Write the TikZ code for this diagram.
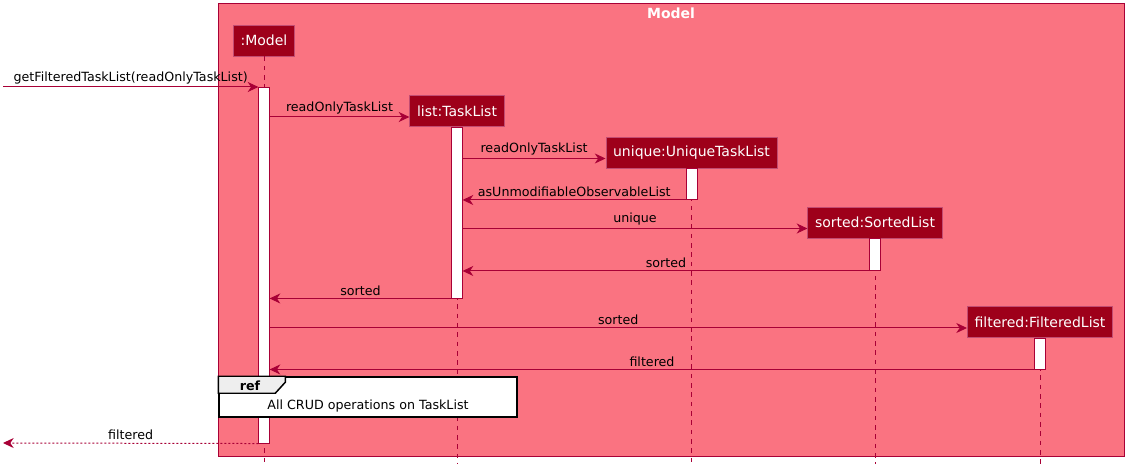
\documentclass[tikz,border=0pt]{standalone}
\usepackage{fontspec}
\setmainfont{DejaVu Sans}
\usepackage{xcolor}
\definecolor{myframe}{RGB}{250,115,129}
\definecolor{mybox}{RGB}{158,0,26}
\definecolor{myline}{RGB}{168,0,54}
\definecolor{mytab}{RGB}{238,238,238}
\usepackage{tikz}
\usetikzlibrary{arrows.meta,positioning,calc}

\begin{document}
\begin{tikzpicture}[
  x=0.75pt, y=-0.75pt,
  participant/.style={
    fill=mybox,
    draw=myline!70!white,
    text=white,
    font=\fontsize{10.5}{12}\selectfont,
    inner xsep=5.5pt,
    minimum height=23.5pt
    },
  actbar/.style={
    draw=myline,
    fill=white,
    minimum width=8pt,
    inner sep=0pt,
    anchor=north
    },
  lifeline/.style={draw=myline, dash pattern=on 3.5pt off 3.5pt, line width=0.6pt},
  msg/.style={draw=myline, line width=0.75pt, -{Stealth[length=8pt,width=7.5pt,inset=2.5pt]}},
  reply/.style={msg, dash pattern=on 1.5pt off 1.5pt},
  msglabel/.style={midway, above, inner sep=2pt, font=\fontsize{9.5}{11}\selectfont, text=black}
]
\useasboundingbox (0,0) rectangle (1134,473);

\draw[myline, fill=myframe, line width=0.75pt] (218,4) rectangle (1124.5,456.5);
\node[text=white, font=\fontsize{10.5}{12}\selectfont\bfseries] (title) at (671,13) {Model};

\node[participant] (model) at (264,40.5) {:Model};
\node[participant] (list) at (457,111) {list:TaskList};
\node[participant] (unique) at (691.5,152.5) {unique:UniqueTaskList};
\node[participant] (sorted) at (875,222.5) {sorted:SortedList};
\node[participant] (filtered) at (1040,322) {filtered:FilteredList};

\coordinate (bottom) at (0,464);
\foreach \p in {model, list, unique, sorted, filtered}
  \draw[lifeline] (\p) -- (\p |- bottom);

\node[actbar, minimum height=267pt] (mbar) at (264,87) {};
\node[actbar, minimum height=128.25pt] (lbar) at (list.south) {};
\node[actbar, minimum height=23.25pt] (ubar) at (unique.south) {};
\node[actbar, minimum height=24pt] (sbar) at (sorted.south) {};
\node[actbar, minimum height=23.25pt] (fbar) at (filtered.south) {};

\coordinate (in) at (3,87);
\coordinate (out) at (3,443);
\coordinate (listin) at ([yshift=-4.5pt]list.west);
\coordinate (uniquein) at ([yshift=-4.5pt]unique.west);
\coordinate (sortedin) at ([yshift=-4.5pt]sorted.west);
\coordinate (filteredin) at ([yshift=-4.5pt]filtered.west);

\draw[msg] (in) -- (mbar.north west)
  node[msglabel] {getFilteredTaskList(readOnlyTaskList)};
\draw[msg] (mbar.east |- listin) -- (listin)
  node[msglabel] {readOnlyTaskList};
\draw[msg] (lbar.east |- uniquein) -- (uniquein)
  node[msglabel] {readOnlyTaskList};
\draw[msg] (ubar.south west) -- (lbar.east |- ubar.south)
  node[msglabel] {asUnmodifiableObservableList};
\draw[msg] (lbar.east |- sortedin) -- (sortedin)
  node[msglabel] {unique};
\draw[msg] (sbar.south west) -- (lbar.east |- sbar.south)
  node[msglabel] {sorted};
\draw[msg] (lbar.south west) -- (mbar.east |- lbar.south)
  node[msglabel] {sorted};
\draw[msg] (mbar.east |- filteredin) -- (filteredin)
  node[msglabel] {sorted};
\draw[msg] (fbar.south west) -- (mbar.east |- fbar.south)
  node[msglabel] {filtered};

\node[draw=black, fill=white, line width=1.1pt, minimum width=223.5pt, minimum height=30pt, inner sep=0pt]
  (ref) at (368,397) {};
\draw[draw=black, fill=mytab, line width=1.1pt]
  (ref.north west) -- ++(67,0) -- ++(0,6) -- ++(-10,11) -- ++(-57,0) -- cycle;
\node[font=\fontsize{9.5}{11}\selectfont\bfseries] (reftag) at (250,385.5) {ref};
\node[font=\fontsize{9.5}{11}\selectfont] (reftext) at ([yshift=-7pt]ref.center) {All CRUD operations on TaskList};

\draw[reply] (mbar.south west) -- (out)
  node[msglabel] {filtered};
\end{tikzpicture}
\end{document}
